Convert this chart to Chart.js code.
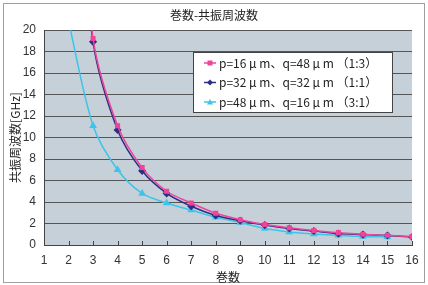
<!DOCTYPE html>
<html>
<head>
<meta charset="utf-8">
<script src="https://cdn.jsdelivr.net/npm/chart.js@4.4.0/dist/chart.umd.min.js"></script>
<style>
	body { margin: 0; background: #fff; }
	#grafico { display: block; }
</style>
</head>
<body>
<canvas id="grafico" width="428" height="285"></canvas>
<script>
// 巻数（x）
const turns = [2, 3, 4, 5, 6, 7, 8, 9, 10, 11, 12, 13, 14, 15, 16];
// 共振周波数 [GHz]
const freq13 = [43, 19.2, 11.1, 7.2, 5.0, 3.9, 2.95, 2.35, 1.9, 1.6, 1.35, 1.15, 1.0, 0.9, 0.78];
const freq11 = [42, 18.9, 10.7, 6.9, 4.8, 3.6, 2.75, 2.25, 1.85, 1.53, 1.3, 1.06, 0.97, 0.88, 0.75];
const freq31 = [20.8, 11.1, 7.0, 4.8, 3.9, 3.25, 2.57, 2.1, 1.53, 1.22, 1.03, 0.9, 0.78, 0.75];
const seriesLabels = [
	"p=16 μ m、q=48 μ m （1:3）",
	"p=32 μ m、q=32 μ m （1:1）",
	"p=48 μ m、q=16 μ m （3:1）",
];
const yTicks = [0, 2, 4, 6, 8, 10, 12, 14, 16, 18, 20];

const fontJP = "'Noto Sans CJK JP', sans-serif";
const fontNum = "'Liberation Sans', Arial, sans-serif";

const pts = (vals) => vals.map((v, i) => ({ x: turns[i], y: v }));

// Fondo del área, marco exterior, título y leyenda
const decor = {
	id: "decor",
	beforeDraw(chart) {
		const { ctx, chartArea: a } = chart;
		ctx.save();
		ctx.fillStyle = "#fff";
		ctx.fillRect(0, 0, chart.width, chart.height);
		ctx.strokeStyle = "#a0a0a0";
		ctx.lineWidth = 1;
		ctx.strokeRect(3.5, 3.5, 421, 279);
		ctx.fillStyle = "#c6d0d8";
		ctx.fillRect(a.left, a.top, a.right - a.left, a.bottom - a.top);
		ctx.restore();
	},
	beforeDatasetsDraw(chart) {
		// marcas del eje x hacia dentro
		const { ctx, chartArea: a, scales } = chart;
		ctx.save();
		ctx.strokeStyle = "#444";
		ctx.lineWidth = 1;
		ctx.beginPath();
		scales.x.ticks.forEach((t) => {
			const x = Math.round(scales.x.getPixelForValue(t.value)) + 0.5;
			ctx.moveTo(x, a.bottom);
			ctx.lineTo(x, a.bottom - 4);
		});
		ctx.stroke();
		ctx.restore();
	},
	afterDraw(chart) {
		const { ctx } = chart;
		ctx.save();
		ctx.fillStyle = "#222";
		ctx.font = "12px " + fontJP;
		ctx.textAlign = "center";
		ctx.textBaseline = "middle";
		ctx.fillText("巻数-共振周波数", 214, 15);

		// leyenda
		ctx.fillStyle = "#fff";
		ctx.fillRect(193, 52, 199, 60);
		ctx.strokeStyle = "#444";
		ctx.lineWidth = 1;
		ctx.strokeRect(193.5, 52.5, 199, 60);
		const rows = [63, 82.5, 102];
		chart.data.datasets.forEach((ds, i) => {
			const y = rows[i];
			ctx.strokeStyle = ds.borderColor;
			ctx.lineWidth = 1.5;
			ctx.beginPath();
			ctx.moveTo(204, y);
			ctx.lineTo(216, y);
			ctx.stroke();
			ctx.fillStyle = ds.borderColor;
			drawMarker(ctx, ds.pointStyle, 210, y);
			ctx.fillStyle = "#222";
			ctx.font = "12px " + fontJP;
			ctx.textAlign = "left";
			ctx.fillText(ds.label, 219, y);
		});
		ctx.restore();
	},
};

function drawMarker(ctx, style, x, y) {
	ctx.beginPath();
	if (style === "rect") {
		ctx.rect(x - 2.5, y - 2.5, 5, 5);
	} else if (style === "rectRot") {
		ctx.moveTo(x, y - 3); ctx.lineTo(x + 3, y); ctx.lineTo(x, y + 3); ctx.lineTo(x - 3, y);
	} else {
		ctx.moveTo(x, y - 3); ctx.lineTo(x + 3, y + 2.5); ctx.lineTo(x - 3, y + 2.5);
	}
	ctx.closePath();
	ctx.fill();
}

const ctx = document.getElementById("grafico");

const graph = new Chart(ctx, {
	type: "line",
	data: {
		datasets: [
			{
				label: seriesLabels[0],
				data: pts(freq13),
				borderColor: "#f0449a",
				backgroundColor: "#f0449a",
				borderWidth: 1.5,
				pointStyle: "rect",
				pointRadius: 2.5,
				tension: 0.3,
			},
			{
				label: seriesLabels[1],
				data: pts(freq11),
				borderColor: "#2e2e86",
				backgroundColor: "#2e2e86",
				borderWidth: 1.5,
				pointStyle: "rectRot",
				pointRadius: 3,
				tension: 0.3,
			},
			{
				label: seriesLabels[2],
				data: pts(freq31),
				borderColor: "#3cc4ea",
				backgroundColor: "#3cc4ea",
				borderWidth: 1.5,
				pointStyle: "triangle",
				pointRadius: 3,
				tension: 0.3,
			},
		],
	},
	options: {
		responsive: false,
		animation: false,
		layout: { padding: { top: 30, right: 16, left: 8, bottom: 0 } },
		plugins: {
			legend: { display: false },
			title: { display: false },
			tooltip: { enabled: false },
		},
		scales: {
			x: {
				type: "linear",
				min: 1,
				max: 16,
				afterFit: (s) => { s.height = 40; },
				ticks: {
					stepSize: 1,
					color: "#333",
					font: { family: fontNum, size: 12 },
					padding: 8,
				},
				grid: { drawOnChartArea: false, drawTicks: false },
				border: { color: "#444", width: 1 },
				title: {
					display: true,
					text: "巻数",
					color: "#222",
					font: { family: fontJP, size: 12 },
					padding: { top: 3, bottom: 0 },
				},
			},
			y: {
				type: "linear",
				min: 0,
				max: 20,
				afterFit: (s) => { s.width = 36; },
				afterBuildTicks: (s) => { s.ticks = yTicks.map((v) => ({ value: v })); },
				ticks: {
					color: "#333",
					font: { family: fontNum, size: 12 },
					padding: 8,
				},
				grid: { color: "#555", tickLength: 0 },
				border: { color: "#444", width: 1 },
				title: {
					display: true,
					text: "共振周波数[GHz]",
					color: "#222",
					font: { family: fontJP, size: 12 },
					padding: { top: 0, bottom: 0 },
				},
			},
		},
	},
	plugins: [decor],
});
</script>
</body>
</html>
